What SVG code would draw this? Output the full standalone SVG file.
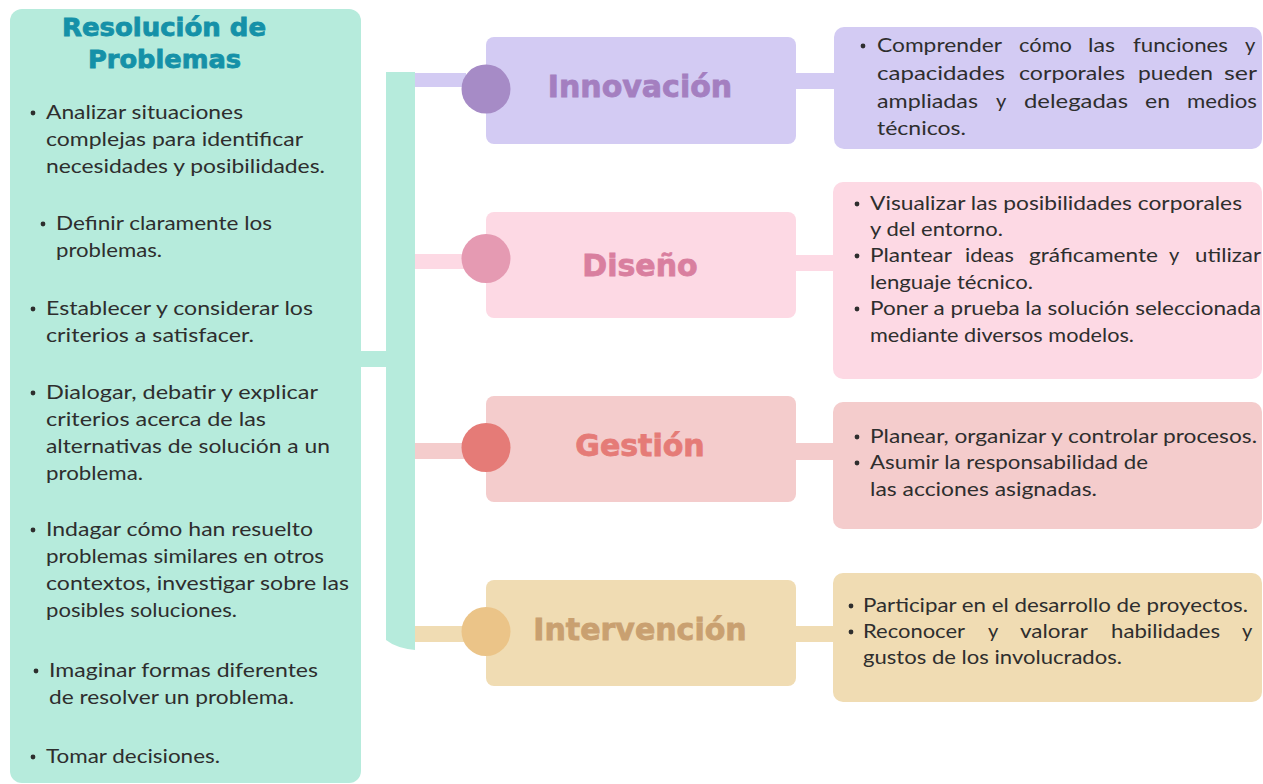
<svg xmlns="http://www.w3.org/2000/svg" width="1263" height="784" viewBox="0 0 1263 784">
<style>
.body{font-family:Lato,"Noto Sans","Liberation Sans",sans-serif;font-size:20px;fill:#2e2e2e;}
.title{font-family:"DejaVu Sans","Liberation Sans",sans-serif;font-weight:bold;font-size:24px;fill:#1591a8;stroke:#1591a8;stroke-width:0.8;}
.label{font-family:"DejaVu Sans","Liberation Sans",sans-serif;font-weight:bold;font-size:30px;text-anchor:middle;stroke-width:0.8;}
.dot{fill:#2e2e2e;}
</style>
<rect width="1263" height="784" fill="#ffffff"/>
<g id="connectors">
  <rect x="359" y="351" width="28" height="16" fill="#b6ebdc"/>
  <rect x="386" y="73" width="80" height="14" fill="#d3cbf3"/>
  <rect x="410" y="254" width="56" height="15" fill="#fdd9e4"/>
  <rect x="410" y="443" width="56" height="16" fill="#f4cccc"/>
  <rect x="410" y="626" width="56" height="16" fill="#f0dcb3"/>
  <path d="M386,72 H415 V650 Q396,648 386,640 Z" fill="#b6ebdc"/>
  <rect x="794" y="73" width="42" height="16" fill="#d3cbf3"/>
  <rect x="794" y="255" width="42" height="16" fill="#fdd9e4"/>
  <rect x="794" y="443" width="42" height="17" fill="#f4cccc"/>
  <rect x="794" y="626" width="42" height="16" fill="#f0dcb3"/>
</g>
<g id="resolucion">
  <rect x="10" y="9" width="351" height="774" rx="12" fill="#b6ebdc"/>
  <text class="title" x="62" y="36" textLength="204" lengthAdjust="spacingAndGlyphs">Resolución de</text>
  <text class="title" x="88" y="68" textLength="153" lengthAdjust="spacingAndGlyphs">Problemas</text>
  <circle class="dot" cx="33" cy="113" r="2.4"/>
  <text class="body" x="46" y="119" textLength="197" lengthAdjust="spacingAndGlyphs">Analizar situaciones</text>
  <text class="body" x="46" y="146" textLength="257" lengthAdjust="spacingAndGlyphs">complejas para identificar</text>
  <text class="body" x="46" y="173" textLength="279" lengthAdjust="spacingAndGlyphs">necesidades y posibilidades.</text>
  <circle class="dot" cx="43" cy="224" r="2.4"/>
  <text class="body" x="56" y="230" textLength="216" lengthAdjust="spacingAndGlyphs">Definir claramente los</text>
  <text class="body" x="56" y="257" textLength="106" lengthAdjust="spacingAndGlyphs">problemas.</text>
  <circle class="dot" cx="33" cy="309" r="2.4"/>
  <text class="body" x="46" y="315" textLength="267" lengthAdjust="spacingAndGlyphs">Establecer y considerar los</text>
  <text class="body" x="46" y="342" textLength="208" lengthAdjust="spacingAndGlyphs">criterios a satisfacer.</text>
  <circle class="dot" cx="33" cy="393" r="2.4"/>
  <text class="body" x="46" y="399" textLength="272" lengthAdjust="spacingAndGlyphs">Dialogar, debatir y explicar</text>
  <text class="body" x="46" y="426" textLength="220" lengthAdjust="spacingAndGlyphs">criterios acerca de las</text>
  <text class="body" x="46" y="453" textLength="284" lengthAdjust="spacingAndGlyphs">alternativas de solución a un</text>
  <text class="body" x="46" y="480" textLength="97" lengthAdjust="spacingAndGlyphs">problema.</text>
  <circle class="dot" cx="33" cy="530" r="2.4"/>
  <text class="body" x="46" y="536" textLength="267" lengthAdjust="spacingAndGlyphs">Indagar cómo han resuelto</text>
  <text class="body" x="46" y="563" textLength="278" lengthAdjust="spacingAndGlyphs">problemas similares en otros</text>
  <text class="body" x="46" y="590" textLength="303" lengthAdjust="spacingAndGlyphs">contextos, investigar sobre las</text>
  <text class="body" x="46" y="617" textLength="191" lengthAdjust="spacingAndGlyphs">posibles soluciones.</text>
  <circle class="dot" cx="36" cy="671" r="2.4"/>
  <text class="body" x="49" y="677" textLength="269" lengthAdjust="spacingAndGlyphs">Imaginar formas diferentes</text>
  <text class="body" x="49" y="704" textLength="245" lengthAdjust="spacingAndGlyphs">de resolver un problema.</text>
  <circle class="dot" cx="33" cy="757" r="2.4"/>
  <text class="body" x="46" y="763" textLength="174" lengthAdjust="spacingAndGlyphs">Tomar decisiones.</text>
</g>
<g id="innovacion">
  <rect x="486" y="37" width="310" height="107" rx="8" fill="#d3cbf3"/>
  <circle cx="486" cy="89" r="24.5" fill="#a68bc6"/>
  <text class="label" x="640" y="97" fill="#a47fc0" stroke="#a47fc0">Innovación</text>
</g>
<g id="innovacion-detalle">
  <rect x="834" y="27" width="428" height="122" rx="10" fill="#d3cbf3"/>
  <circle class="dot" cx="863" cy="46" r="2.4"/>
  <text class="body" x="877" y="52" textLength="125" lengthAdjust="spacingAndGlyphs">Comprender</text>
  <text class="body" x="1019" y="52" textLength="53" lengthAdjust="spacingAndGlyphs">cómo</text>
  <text class="body" x="1088" y="52" textLength="27" lengthAdjust="spacingAndGlyphs">las</text>
  <text class="body" x="1133" y="52" textLength="95" lengthAdjust="spacingAndGlyphs">funciones</text>
  <text class="body" x="1245" y="52">y</text>
  <text class="body" x="877" y="80" textLength="128" lengthAdjust="spacingAndGlyphs">capacidades</text>
  <text class="body" x="1019" y="80" textLength="106" lengthAdjust="spacingAndGlyphs">corporales</text>
  <text class="body" x="1138" y="80" textLength="75" lengthAdjust="spacingAndGlyphs">pueden</text>
  <text class="body" x="1224" y="80" textLength="33" lengthAdjust="spacingAndGlyphs">ser</text>
  <text class="body" x="877" y="108" textLength="101" lengthAdjust="spacingAndGlyphs">ampliadas</text>
  <text class="body" x="996" y="108">y</text>
  <text class="body" x="1024" y="108" textLength="104" lengthAdjust="spacingAndGlyphs">delegadas</text>
  <text class="body" x="1145" y="108" textLength="25" lengthAdjust="spacingAndGlyphs">en</text>
  <text class="body" x="1187" y="108" textLength="70" lengthAdjust="spacingAndGlyphs">medios</text>
  <text class="body" x="877" y="135" textLength="89" lengthAdjust="spacingAndGlyphs">técnicos.</text>
</g>
<g id="diseno">
  <rect x="486" y="212" width="310" height="106" rx="8" fill="#fdd9e4"/>
  <circle cx="486" cy="258.5" r="24.5" fill="#e59ab2"/>
  <text class="label" x="640" y="276" fill="#d97f9f" stroke="#d97f9f">Diseño</text>
</g>
<g id="diseno-detalle">
  <rect x="833" y="182" width="429" height="197" rx="10" fill="#fdd9e4"/>
  <circle class="dot" cx="857" cy="204" r="2.4"/>
  <text class="body" x="870" y="210" textLength="372" lengthAdjust="spacingAndGlyphs">Visualizar las posibilidades  corporales</text>
  <text class="body" x="870" y="236" textLength="133" lengthAdjust="spacingAndGlyphs">y del entorno.</text>
  <circle class="dot" cx="857" cy="256" r="2.4"/>
  <text class="body" x="870" y="262" textLength="82" lengthAdjust="spacingAndGlyphs">Plantear</text>
  <text class="body" x="965" y="262" textLength="49" lengthAdjust="spacingAndGlyphs">ideas</text>
  <text class="body" x="1029" y="262" textLength="129" lengthAdjust="spacingAndGlyphs">gráficamente</text>
  <text class="body" x="1169" y="262">y</text>
  <text class="body" x="1195" y="262" textLength="66" lengthAdjust="spacingAndGlyphs">utilizar</text>
  <text class="body" x="870" y="289" textLength="163" lengthAdjust="spacingAndGlyphs">lenguaje técnico.</text>
  <circle class="dot" cx="857" cy="309" r="2.4"/>
  <text class="body" x="870" y="315" textLength="391" lengthAdjust="spacingAndGlyphs">Poner a prueba la solución seleccionada</text>
  <text class="body" x="870" y="342" textLength="264" lengthAdjust="spacingAndGlyphs">mediante diversos modelos.</text>
</g>
<g id="gestion">
  <rect x="486" y="396" width="310" height="106" rx="8" fill="#f4cccc"/>
  <circle cx="486" cy="447.5" r="24.5" fill="#e57b77"/>
  <text class="label" x="640" y="456" fill="#e57b77" stroke="#e57b77">Gestión</text>
</g>
<g id="gestion-detalle">
  <rect x="833" y="402" width="429" height="127" rx="10" fill="#f4cccc"/>
  <circle class="dot" cx="857" cy="437" r="2.4"/>
  <text class="body" x="870" y="443" textLength="387" lengthAdjust="spacingAndGlyphs">Planear, organizar y controlar procesos.</text>
  <circle class="dot" cx="857" cy="463" r="2.4"/>
  <text class="body" x="870" y="469" textLength="278" lengthAdjust="spacingAndGlyphs">Asumir la responsabilidad de</text>
  <text class="body" x="870" y="496" textLength="227" lengthAdjust="spacingAndGlyphs">las acciones asignadas.</text>
</g>
<g id="intervencion">
  <rect x="486" y="580" width="310" height="106" rx="8" fill="#f0dcb3"/>
  <circle cx="486" cy="631.5" r="24.5" fill="#ebc488"/>
  <text class="label" x="640" y="640" fill="#c9a070" stroke="#c9a070">Intervención</text>
</g>
<g id="intervencion-detalle">
  <rect x="833" y="573" width="429" height="129" rx="10" fill="#f0dcb3"/>
  <circle class="dot" cx="851" cy="606" r="2.4"/>
  <text class="body" x="863" y="612" textLength="385" lengthAdjust="spacingAndGlyphs">Participar en el desarrollo de proyectos.</text>
  <circle class="dot" cx="851" cy="632" r="2.4"/>
  <text class="body" x="863" y="638" textLength="102" lengthAdjust="spacingAndGlyphs">Reconocer</text>
  <text class="body" x="988" y="638">y</text>
  <text class="body" x="1020" y="638" textLength="68" lengthAdjust="spacingAndGlyphs">valorar</text>
  <text class="body" x="1111" y="638" textLength="109" lengthAdjust="spacingAndGlyphs">habilidades</text>
  <text class="body" x="1242" y="638">y</text>
  <text class="body" x="863" y="664" textLength="259" lengthAdjust="spacingAndGlyphs">gustos de los involucrados.</text>
</g>
</svg>
